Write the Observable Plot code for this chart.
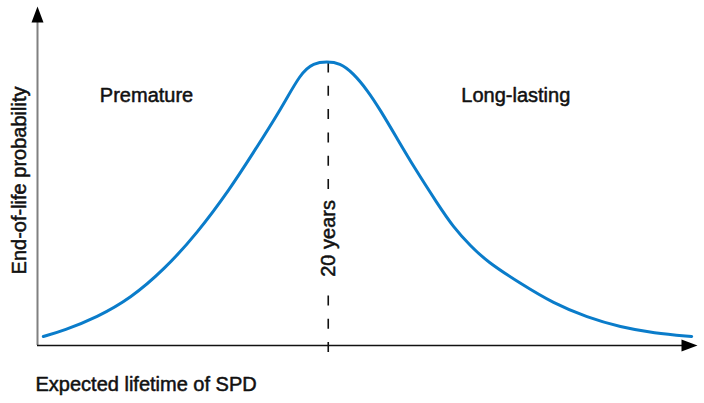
<!DOCTYPE html>
<html>
<head>
<meta charset="utf-8">
<script src="https://cdn.jsdelivr.net/npm/d3@7"></script>
<script src="https://cdn.jsdelivr.net/npm/@observablehq/plot@0.6"></script>
<style>
  html, body { margin: 0; padding: 0; background: #fff; }
  svg { display: block; }
</style>
</head>
<body>
<div id="chart"></div>
<script>
// Expected lifetime (years) and relative end-of-life probability
const lifetime = [0.4, 1.8, 4.1, 6.4, 8.7, 11.0, 13.3, 14.65, 16.7, 18.1, 19.0, 19.9, 20.8, 21.7, 22.7, 23.6, 24.7, 25.9, 27.5, 28.6, 29.8, 30.9, 33.2, 35.5, 37.8, 40.1, 42.4, 45.0];
const probability = [0.032, 0.053, 0.100, 0.167, 0.268, 0.398, 0.559, 0.667, 0.832, 0.965, 1.0, 1.005, 1.0, 0.965, 0.903, 0.832, 0.736, 0.631, 0.503, 0.419, 0.352, 0.298, 0.220, 0.149, 0.100, 0.065, 0.044, 0.032];

const peakYears = [20];
const peakLabel = ["20 years"];
const regionLabels = ["Premature", "Long-lasting"];
const regionX = [7.5, 32.9];
const regionY = [0.885, 0.885];
const peakLabelY = [0.379];
const xDomain = [0, 45.4];
const yDomain = [0, 1.2];
const xTitle = "Expected lifetime of SPD";
const yTitle = "End-of-life probability";

const curve = lifetime.map((x, i) => ({x, y: probability[i]}));
const regions = regionLabels.map((t, i) => ({t, x: regionX[i], y: regionY[i]}));

const arrowHead = {
  draw(ctx) {
    ctx.moveTo(0, 0);
    ctx.lineTo(-6, 16);
    ctx.lineTo(6, 16);
    ctx.closePath();
  }
};

const font = "'Liberation Sans', Arial, Helvetica, sans-serif";
const ink = "#111";
const textStyle = {fill: ink, stroke: ink, strokeWidth: 0.5, fontSize: 20};

const chart = Plot.plot({
  width: 704,
  height: 403,
  marginLeft: 37,
  marginRight: 7,
  marginTop: 6,
  marginBottom: 58,
  style: {fontFamily: font, fontSize: "20px", color: ink, background: "#fff"},
  x: {domain: xDomain, axis: null},
  y: {domain: yDomain, axis: null},
  marks: [
    // dashed line at the peak
    Plot.ruleX(peakYears, {y1: 1.0, y2: -0.053, stroke: ink, strokeWidth: 1.6, strokeDasharray: "10,13.3"}),
    // peak label: white halo, then text
    Plot.text(peakLabel, {x: peakYears, y: peakLabelY, rotate: -90, fill: "white", stroke: "white", strokeWidth: 18, fontSize: 20}),
    Plot.text(peakLabel, {x: peakYears, y: peakLabelY, rotate: -90, ...textStyle}),
    // axes
    Plot.ruleX([xDomain[0]], {y1: yDomain[0], y2: yDomain[1] - 0.05, stroke: "#808080", strokeWidth: 2}),
    Plot.ruleY([yDomain[0]], {x1: xDomain[0], x2: xDomain[1] - 1, stroke: ink, strokeWidth: 1.5}),
    Plot.dot([[xDomain[0], yDomain[1]]], {x: d => d[0], y: d => d[1], symbol: arrowHead, fill: "#000", stroke: null, r: 4}),
    Plot.dot([[xDomain[1], yDomain[0]]], {x: d => d[0], y: d => d[1], symbol: arrowHead, fill: "#000", stroke: null, r: 4, rotate: 90}),
    // curve
    Plot.line(curve, {x: "x", y: "y", curve: "basis", stroke: "#0a7cca", strokeWidth: 3}),
    // region labels
    Plot.text(regions, {x: "x", y: "y", text: "t", ...textStyle}),
    // axis titles
    Plot.text([yTitle], {frameAnchor: "left", textAnchor: "middle", dx: -18, dy: 4.5, rotate: -90, ...textStyle}),
    Plot.text([xTitle], {frameAnchor: "bottom-left", textAnchor: "start", dx: -2, dy: 45, ...textStyle})
  ]
});
document.getElementById("chart").appendChild(chart);
</script>
</body>
</html>
